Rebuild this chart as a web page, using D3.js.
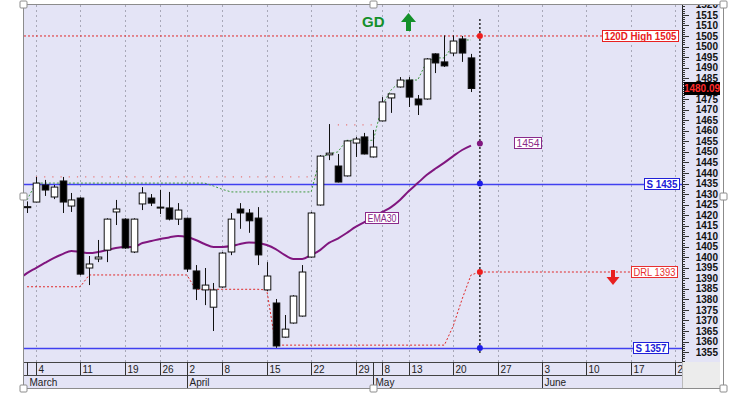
<!DOCTYPE html>
<html>
<head>
<meta charset="utf-8">
<script src="https://cdn.jsdelivr.net/npm/d3@7"></script>
<style>
body { margin: 0; background: #fff; }
text { font-family: "Liberation Sans", Arial, sans-serif; }
</style>
</head>
<body>
<div id="chart"></div>
<script>
// daily bars, index 0 = 1 March
var opens  = [1424, 1426.2, 1434.3, 1428.6, 1436.2, 1424.3, 1428.1, 1394.9, 1399.2, 1403.4,
              1421.5, 1418.1, 1402.5, 1425.3, 1428.1, 1423.5, 1423.4, 1418.1, 1418.5, 1393.5,
              1384.5, 1376.3, 1385.9, 1402.5, 1422.9, 1421.0, 1418.6, 1384.5, 1378.3, 1362.1,
              1368.8, 1372.1, 1400.1, 1424.8, 1448.6, 1443.3, 1438.6, 1454.2, 1457.1, 1447.6,
              1464.7, 1475.6, 1480.8, 1484.1, 1475.1, 1475.1, 1496.5, 1492.7, 1496.9, 1503.6,
              1494.6];
var highs  = [1426.5, 1438.1, 1436.7, 1434.3, 1438.1, 1430.5, 1428.5, 1400.6, 1408.2, 1418.5,
              1427.2, 1418.5, 1418.5, 1433.3, 1430.0, 1432.0, 1431.0, 1425.7, 1418.8, 1396.3,
              1394.9, 1387.8, 1402.5, 1421.0, 1425.7, 1422.9, 1423.8, 1397.7, 1380.2, 1372.6,
              1382.0, 1396.3, 1421.5, 1448.5, 1463.2, 1449.0, 1455.5, 1457.1, 1459.0, 1460.4,
              1476.0, 1477.6, 1485.5, 1485.5, 1477.0, 1494.5, 1496.8, 1505.3, 1505.3, 1505.0,
              1496.5];
var lows   = [1421, 1426, 1429.1, 1427.6, 1421, 1421.5, 1391.5, 1386.8, 1397.7, 1397.7,
              1415.3, 1404.0, 1402.0, 1422.4, 1424.3, 1420.5, 1417.5, 1415.3, 1393.0, 1379.7,
              1377.3, 1365.0, 1385.5, 1401.0, 1413.5, 1411.6, 1396.3, 1384.0, 1357.0, 1361.8,
              1368.5, 1371.8, 1399.8, 1424.5, 1446.1, 1435.5, 1438.3, 1447.6, 1448.8, 1447.3,
              1464.5, 1468.5, 1480.5, 1471.3, 1467.5, 1474.8, 1487.4, 1490.3, 1495.5, 1492.7,
              1478.4];
var closes = [1423.6, 1435.2, 1431.9, 1433.3, 1426.2, 1427.2, 1392.0, 1396.8, 1400.1, 1418.1,
              1422.9, 1404.4, 1418.1, 1430.5, 1425.7, 1423.8, 1418.1, 1422.4, 1394.4, 1385.0,
              1386.8, 1384.5, 1402.0, 1418.1, 1421.0, 1417.3, 1401.1, 1391.1, 1357.9, 1365.9,
              1381.6, 1393.0, 1421.0, 1448.0, 1449.4, 1435.7, 1455.2, 1456.1, 1449.0, 1452.3,
              1473.7, 1477.5, 1484.1, 1476.0, 1472.3, 1494.1, 1492.2, 1490.8, 1502.6, 1496.9,
              1480.09];

// EMA30, first value belongs to index -1
var emaStart = -1;
var ema30 = [1389.2, 1392.5, 1394.9, 1397.3, 1399.6, 1401.5, 1403.0, 1402.5, 1402.0, 1402.5,
             1403.4, 1404.4, 1404.9, 1404.9, 1406.8, 1407.7, 1408.7, 1409.4, 1410.1, 1409.6,
             1408.2, 1406.3, 1404.9, 1404.9, 1405.3, 1406.3, 1407.0, 1406.8, 1405.8, 1403.9,
             1401.1, 1399.2, 1399.2, 1401.1, 1403.4, 1406.8, 1408.9, 1411.5, 1414.4, 1416.7,
             1419.1, 1421.5, 1423.8, 1427.2, 1431.4, 1435.2, 1439.0, 1442.1, 1444.9, 1448.0,
             1450.9, 1453.0];

// trailing stop (green dotted), index 0..50
var trailStop = [1427.2, 1435.2, 1435.2, 1435.2, 1435.2, 1435.2, 1435.2, 1435.2, 1435.2, 1435.2,
                 1435.2, 1435.2, 1435.2, 1435.2, 1435.2, 1435.2, 1435.2, 1435.2, 1435.2, 1435.2,
                 1435.2, 1433.8, 1432.2, 1431.0, 1431.0, 1431.0, 1431.0, 1431.0, 1431.0, 1431.0,
                 1431.0, 1431.0, 1431.0, 1447.1, 1449.0, 1450.0, 1455.5, 1455.5, 1455.5, 1455.5,
                 1472.3, 1479.4, 1483.2, 1484.1, 1484.1, 1492.7, 1494.6, 1494.6, 1500.7, 1503.1,
                 1503.1];

// DRL line (red dotted), index 0..51
var drl = [1386, 1386, 1386, 1386, 1386, 1386, 1386, 1391.6, 1391.6, 1391.6,
           1391.6, 1391.6, 1391.6, 1391.6, 1391.6, 1391.6, 1391.6, 1391.6, 1391.6, 1384.8,
           1384.8, 1384.8, 1384.8, 1384.8, 1384.8, 1384.8, 1384.8, 1384.5, 1358.3, 1358.3,
           1358.3, 1358.3, 1358.3, 1358.3, 1358.3, 1358.3, 1358.3, 1358.3, 1358.3, 1358.3,
           1358.3, 1358.3, 1358.3, 1358.3, 1358.3, 1358.3, 1358.3, 1358.3, 1367.4, 1380.2,
           1391.6, 1393];

// resistance steps (sparse pink dots)
var resFrom  = [1, 35];
var resTo    = [32.5, 39];
var resLevel = [1438.1, 1462.8];

// levels
var highLevel = 1505, supportHigh = 1435, supportLow = 1357, drlLevel = 1393, emaLast = 1454;
var lastPrice = 1480.09;
var markerIdx = 51;

// x axis
var dayTickIdx    = [0, 1, 6, 11, 15, 18, 22, 27, 32, 37, 39, 40, 43, 48, 53, 58, 63, 68, 73];
var dayTickLabels = ["", "4", "11", "19", "26", "2", "8", "15", "22", "29", "", "8", "13", "20", "27", "3", "10", "17", "24"];
var monthIdx   = [0, 18, 39, 58];
var monthNames = ["March", "April", "May", "June"];

var bars = opens.map(function (o, i) {
    return { i: i, o: o, h: highs[i], l: lows[i], c: closes[i] };
});

var W = 731, H = 399;
var pl = 24, pr = 682, pt = 5, pb = 362;
var bg = "#e4e4f6";

var svg = d3.select("#chart").append("svg")
    .attr("width", W).attr("height", H);

var x = d3.scaleLinear().domain([-0.34, 73.76]).range([pl, pr]);
var y = d3.scaleLinear().domain([1350.3, 1519.7]).range([pb, pt]);

svg.append("defs").append("clipPath").attr("id", "plotclip")
    .append("rect").attr("x", pl).attr("y", pt).attr("width", pr - pl).attr("height", pb - pt);
svg.select("defs").append("clipPath").attr("id", "axisclip")
    .append("rect").attr("x", pr).attr("y", pt).attr("width", 38).attr("height", pb - pt);
svg.select("defs").append("clipPath").attr("id", "rowclip")
    .append("rect").attr("x", pl).attr("y", pb).attr("width", pr - pl).attr("height", 26);

// backgrounds
svg.append("rect").attr("x", pl).attr("y", pt).attr("width", 720 - pl).attr("height", 388 - pt).attr("fill", bg);
svg.append("rect").attr("x", pr).attr("y", pb).attr("width", 720 - pr).attr("height", 388 - pb).attr("fill", "#ececec");

var plotG = svg.append("g").attr("clip-path", "url(#plotclip)");

// vertical grid
plotG.selectAll(".grid")
    .data(dayTickIdx.filter(function (d, k) { return dayTickLabels[k] !== ""; }))
    .enter().append("line")
    .attr("x1", function (d) { return Math.round(x(d)) + 0.5; })
    .attr("x2", function (d) { return Math.round(x(d)) + 0.5; })
    .attr("y1", pt).attr("y2", pb)
    .attr("stroke", "#a8a8b8").attr("stroke-dasharray", "2,3");

// resistance steps
resLevel.forEach(function (v, k) {
    plotG.append("line")
        .attr("x1", x(resFrom[k])).attr("x2", x(resTo[k]))
        .attr("y1", y(v)).attr("y2", y(v))
        .attr("stroke", "#e87878").attr("stroke-width", 1.2).attr("stroke-dasharray", "1.2,7");
});

// horizontal levels
plotG.append("line").attr("x1", pl).attr("x2", 602).attr("y1", y(highLevel)).attr("y2", y(highLevel))
    .attr("stroke", "#e02828").attr("stroke-dasharray", "2,2");
[supportHigh, supportLow].forEach(function (v) {
    plotG.append("line").attr("x1", pl).attr("x2", pr)
        .attr("y1", Math.round(y(v)) + 0.5).attr("y2", Math.round(y(v)) + 0.5)
        .attr("stroke", "#4040f0").attr("stroke-width", 1.4);
});
plotG.append("line").attr("x1", x(markerIdx)).attr("x2", 631).attr("y1", y(drlLevel)).attr("y2", y(drlLevel))
    .attr("stroke", "#e02828").attr("stroke-dasharray", "2,2");

// DRL and trailing stop
var lineGen = d3.line()
    .x(function (d, i) { return x(i); })
    .y(function (d) { return y(d); });
plotG.append("path").attr("d", lineGen(drl))
    .attr("fill", "none").attr("stroke", "#e02828").attr("stroke-dasharray", "2,2");
plotG.append("path").attr("d", lineGen(trailStop))
    .attr("fill", "none").attr("stroke", "#3f9a3f").attr("stroke-dasharray", "2,2");

// EMA30
var emaLine = d3.line()
    .x(function (d, i) { return x(i + emaStart); })
    .y(function (d) { return y(d); })
    .curve(d3.curveMonotoneX);
plotG.append("path").attr("d", emaLine(ema30))
    .attr("fill", "none").attr("stroke", "#80167f").attr("stroke-width", 2);

// candles
var bw = 6.6;
var candle = plotG.selectAll(".candle").data(bars).enter().append("g");
candle.append("line")
    .attr("x1", function (d) { return Math.round(x(d.i)) + 0.5; })
    .attr("x2", function (d) { return Math.round(x(d.i)) + 0.5; })
    .attr("y1", function (d) { return y(d.h); })
    .attr("y2", function (d) { return y(d.l); })
    .attr("stroke", "#111");
candle.append("rect")
    .attr("x", function (d) { return Math.round(x(d.i)) + 0.5 - bw / 2; })
    .attr("y", function (d) { return y(Math.max(d.o, d.c)); })
    .attr("width", bw)
    .attr("height", function (d) { return Math.max(1, Math.abs(y(d.o) - y(d.c))); })
    .attr("fill", function (d) { return d.c >= d.o ? "#fff" : "#000"; })
    .attr("stroke", "#111");

// marker line and dots
plotG.append("line").attr("x1", x(markerIdx)).attr("x2", x(markerIdx)).attr("y1", 19).attr("y2", 353)
    .attr("stroke", "#111").attr("stroke-width", 1.3).attr("stroke-dasharray", "2,2");
var dotVals = [highLevel, emaLast, supportHigh, drlLevel, supportLow];
var dotCols = ["#ee1c1c", "#80167f", "#1c1ce8", "#ee1c1c", "#1c1ce8"];
plotG.selectAll(".dot").data(dotVals).enter().append("circle")
    .attr("cx", x(markerIdx)).attr("cy", function (d) { return y(d); })
    .attr("r", 3).attr("fill", function (d, k) { return dotCols[k]; });

// label boxes
function tag(xl, v, w, txt, col, bold) {
    var g = svg.append("g");
    g.append("rect").attr("x", xl + 0.5).attr("y", Math.round(y(v)) - 5.5).attr("width", w).attr("height", 11)
        .attr("fill", "#fff").attr("stroke", col);
    g.append("text").attr("x", xl + 0.5 + w / 2).attr("y", Math.round(y(v)) + 4)
        .attr("text-anchor", "middle").attr("font-size", 11)
        .attr("textLength", w - 4).attr("lengthAdjust", "spacingAndGlyphs")
        .attr("font-weight", bold ? "bold" : "normal").attr("fill", col).text(txt);
}
tag(602, highLevel, 76, "120D High " + highLevel, "#e82020", true);
tag(644, supportHigh, 35, "S " + supportHigh, "#2020d8", true);
tag(633, supportLow, 35, "S " + supportLow, "#2020d8", true);
tag(631, drlLevel, 46, "DRL " + drlLevel, "#e83030", false);
tag(514, emaLast, 27, String(emaLast), "#8a2a8a", false);
tag(365, 1418.5, 33, "EMA30", "#8a2a8a", false);

// GD signal
svg.append("text").attr("x", 362).attr("y", 27).attr("font-size", 15).attr("font-weight", "bold")
    .attr("fill", "#14902a").text("GD");
svg.append("path").attr("d", "M408.5,13 L416,22 L411,22 L411,31 L406,31 L406,22 L401,22 Z")
    .attr("fill", "#14902a");
// DRL down arrow
svg.append("path").attr("d", "M611,270 L615,270 L615,277 L619.5,277 L613,285 L606.5,277 L611,277 Z")
    .attr("fill", "#e82020");

// y axis
svg.append("line").attr("x1", pr + 0.5).attr("x2", pr + 0.5).attr("y1", pt).attr("y2", pb)
    .attr("stroke", "#222");
var axisG = svg.append("g").attr("clip-path", "url(#axisclip)");
axisG.selectAll(".mt").data(d3.range(1350, 1521, 1)).enter().append("line")
    .attr("x1", pr).attr("x2", function (d) { return d % 5 === 0 ? pr + 7 : pr + 3; })
    .attr("y1", function (d) { return Math.round(y(d)) + 0.5; })
    .attr("y2", function (d) { return Math.round(y(d)) + 0.5; })
    .attr("stroke", "#333");
// the price tag covers the 1480 label
axisG.selectAll(".yl").data(d3.range(1355, 1521, 5).filter(function (d) { return d !== 1480; }))
    .enter().append("text")
    .attr("x", 718).attr("y", function (d) { return y(d) + 3.6; })
    .attr("text-anchor", "end").attr("font-size", 10).attr("font-weight", "bold").attr("fill", "#111")
    .text(function (d) { return d; });
axisG.append("rect").attr("x", 684).attr("y", Math.round(y(lastPrice)) - 6).attr("width", 36).attr("height", 13)
    .attr("fill", "#000");
axisG.append("text").attr("x", 702).attr("y", Math.round(y(lastPrice)) + 4).attr("text-anchor", "middle")
    .attr("font-size", 10).attr("font-weight", "bold").attr("fill", "#ff2a2a").text(lastPrice.toFixed(2));

// x axis rows
svg.append("line").attr("x1", pl).attr("x2", pr).attr("y1", pb + 0.5).attr("y2", pb + 0.5).attr("stroke", "#444");
svg.append("line").attr("x1", pl).attr("x2", pr).attr("y1", 375.5).attr("y2", 375.5).attr("stroke", "#444");
svg.append("line").attr("x1", pr + 0.5).attr("x2", pr + 0.5).attr("y1", pb).attr("y2", 388).attr("stroke", "#bbb");
var rowG = svg.append("g").attr("clip-path", "url(#rowclip)");
rowG.selectAll(".dt").data(dayTickIdx).enter().append("line")
    .attr("x1", function (d) { return Math.round(x(d)) + 0.5; })
    .attr("x2", function (d) { return Math.round(x(d)) + 0.5; })
    .attr("y1", pb).attr("y2", 375)
    .attr("stroke", "#333");
rowG.selectAll(".dl").data(dayTickIdx).enter().append("text")
    .attr("x", function (d) { return Math.round(x(d)) + 2.5; })
    .attr("y", 372.5).attr("font-size", 10).attr("fill", "#222")
    .text(function (d, k) { return dayTickLabels[k]; });
rowG.selectAll(".ml").data(monthIdx.slice(1)).enter().append("line")
    .attr("x1", function (d) { return Math.round(x(d)) + 0.5; })
    .attr("x2", function (d) { return Math.round(x(d)) + 0.5; })
    .attr("y1", pb).attr("y2", 388)
    .attr("stroke", "#333");
rowG.selectAll(".mn").data(monthIdx).enter().append("text")
    .attr("x", function (d) { return Math.round(x(d)) + 2.5; })
    .attr("y", 385.5).attr("font-size", 10).attr("fill", "#222")
    .text(function (d, k) { return monthNames[k]; });

// picture frame with handles
svg.append("rect").attr("x", 23.5).attr("y", 4.5).attr("width", 700).attr("height", 384)
    .attr("fill", "none").attr("stroke", "#8c8c8c");
var hx = [23.5, 373.5, 723.5, 23.5, 723.5, 23.5, 373.5, 723.5];
var hy = [4.5, 4.5, 4.5, 196.5, 196.5, 388.5, 388.5, 388.5];
svg.selectAll(".hd").data(hx).enter().append("rect")
    .attr("x", function (d) { return d - 3.5; })
    .attr("y", function (d, k) { return hy[k] - 3.5; })
    .attr("width", 7).attr("height", 7).attr("rx", 1)
    .attr("fill", "#fff").attr("stroke", "#8c8c8c");
</script>
</body>
</html>
